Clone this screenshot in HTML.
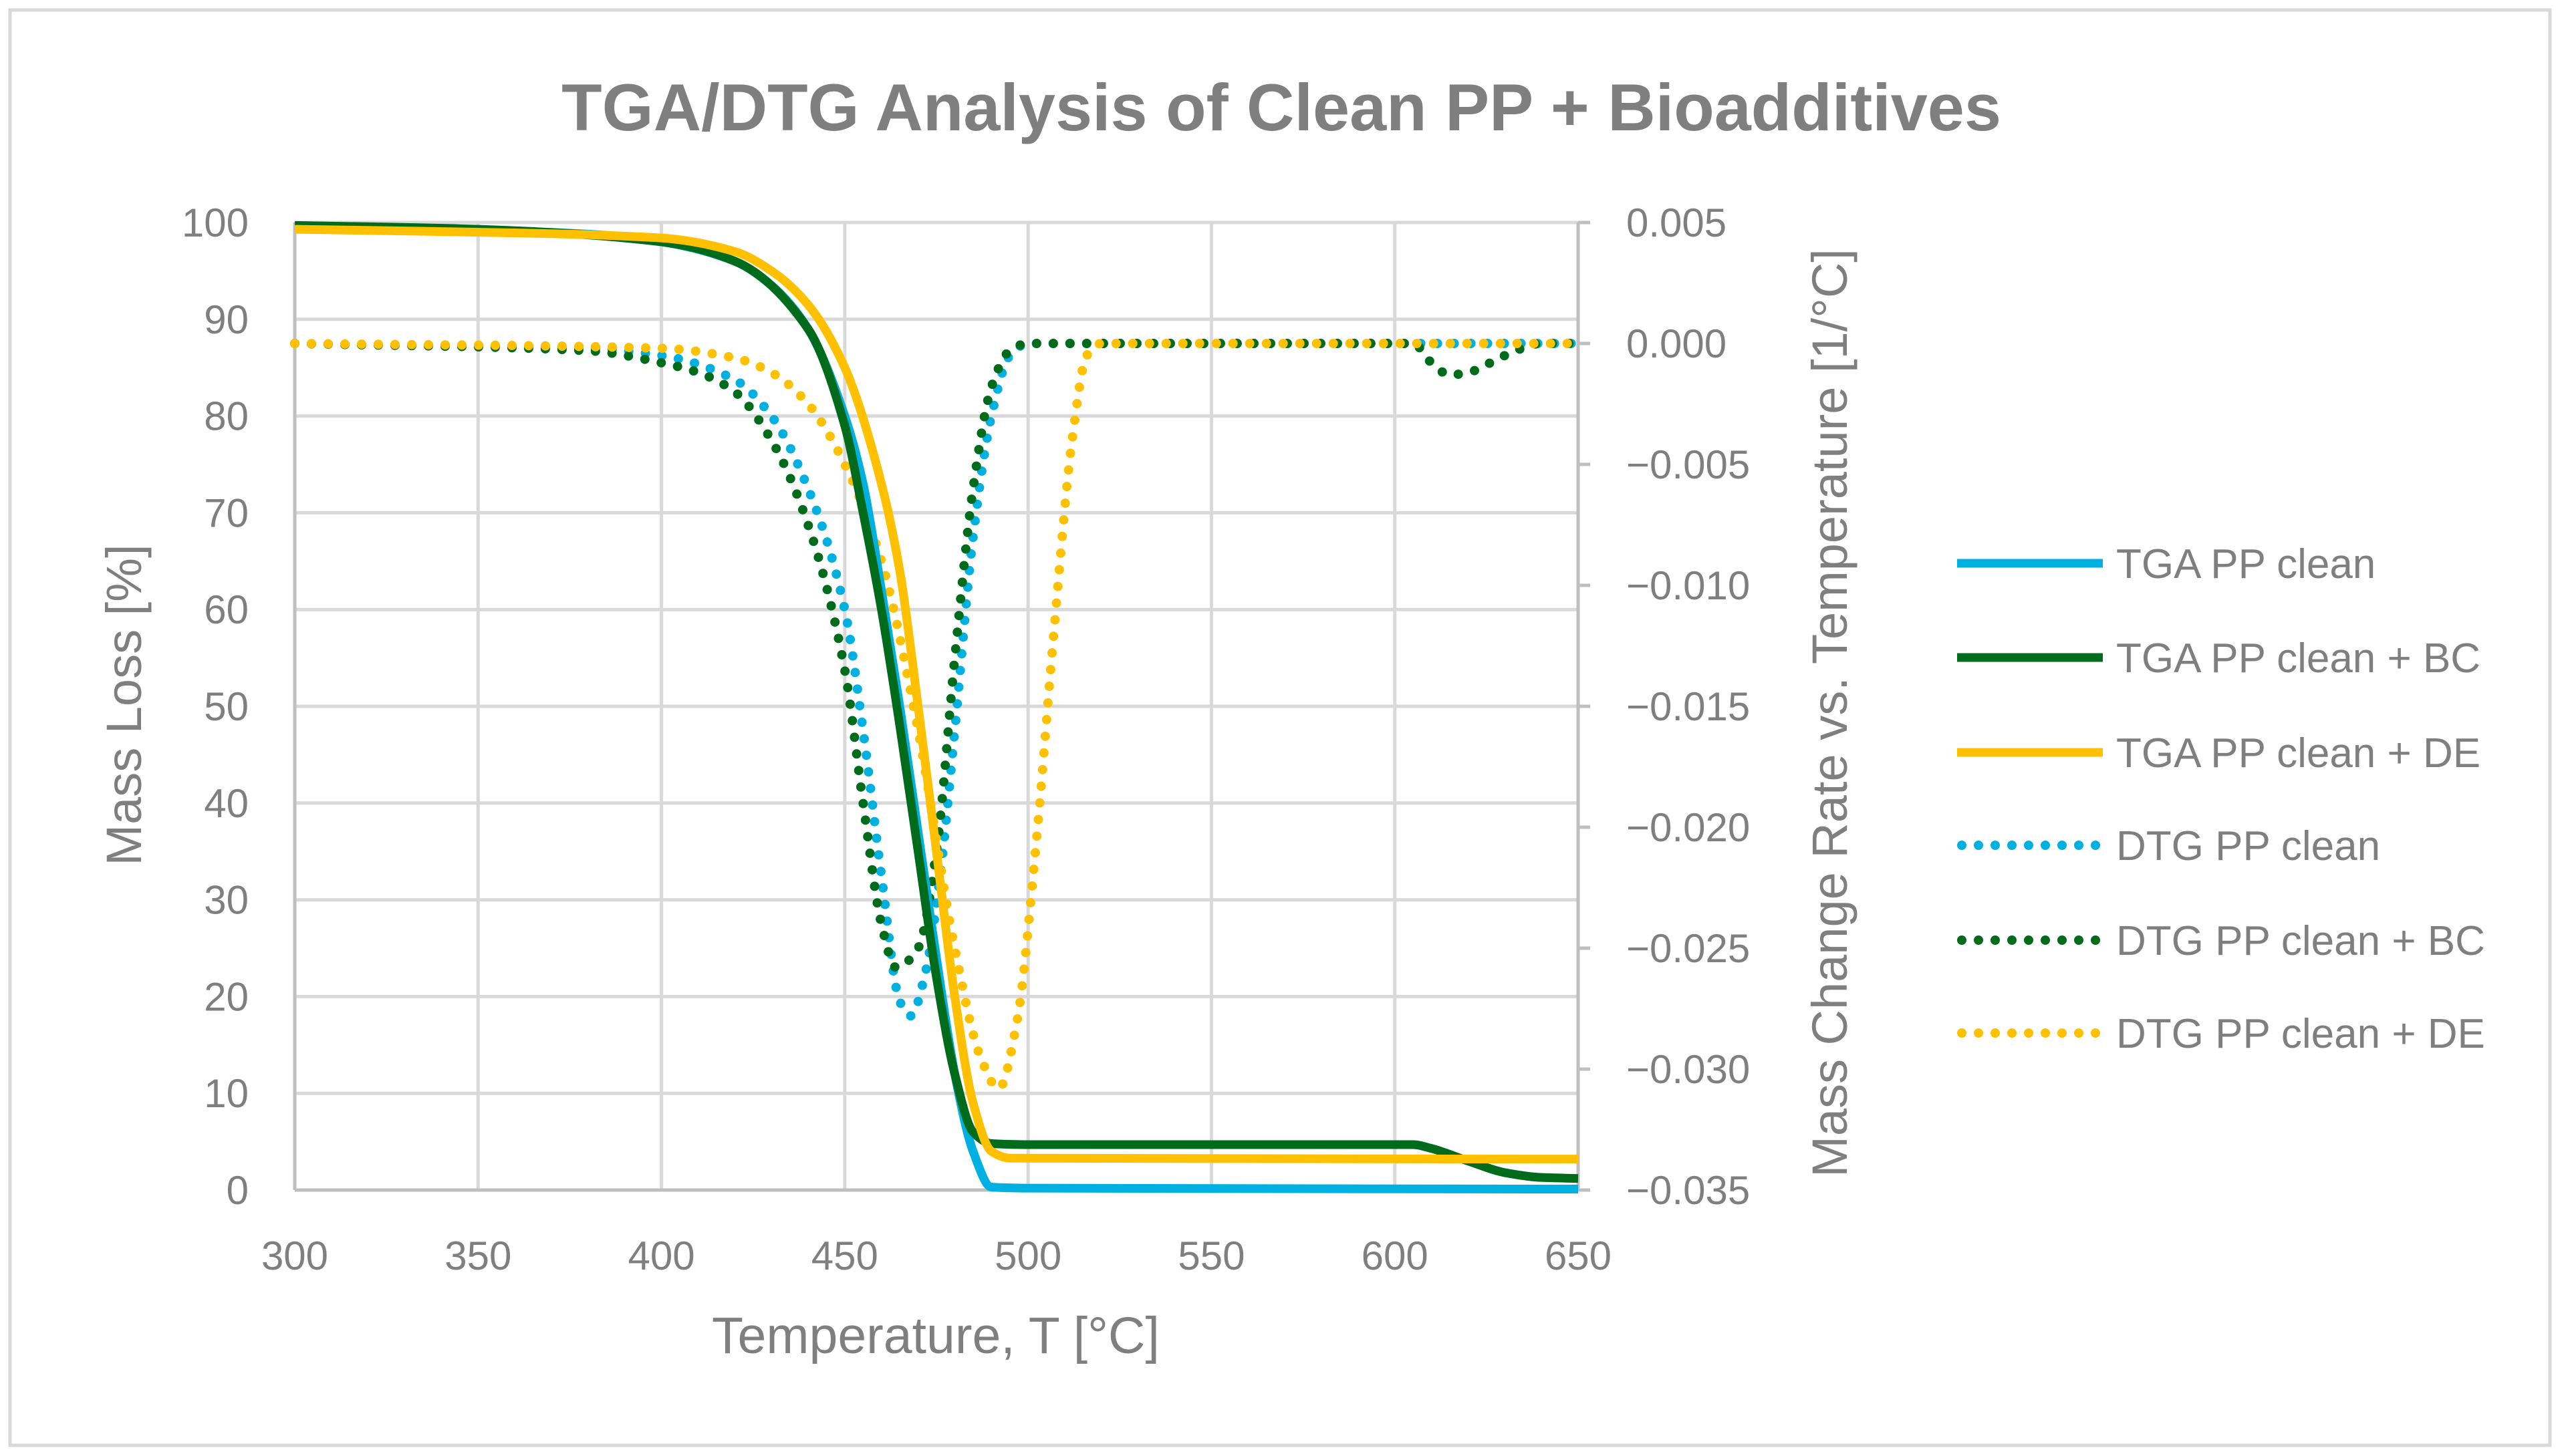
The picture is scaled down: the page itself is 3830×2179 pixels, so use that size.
<!DOCTYPE html>
<html><head><meta charset="utf-8"><style>
html,body{margin:0;padding:0;background:#fff}
svg{display:block;font-family:"Liberation Sans",sans-serif}
</style></head><body>
<svg id="chart" width="3830" height="2179" viewBox="0 0 3830 2179">
<rect x="15" y="15" width="3800" height="2148" fill="#fff" stroke="#d9d9d9" stroke-width="5"/>
<text x="1917" y="195" text-anchor="middle" font-size="99" font-weight="bold" fill="#7f7f7f">TGA/DTG Analysis of Clean PP + Bioadditives</text>
<g id="grid"></g>
<g id="axes"></g>
<g id="series"></g>
<text x="1400" y="2025" text-anchor="middle" font-size="77" fill="#7f7f7f">Temperature, T [°C]</text>
<text transform="translate(211,1055) rotate(-90)" text-anchor="middle" font-size="74" fill="#7f7f7f">Mass Loss [%]</text>
<text transform="translate(2763,1067) rotate(-90)" text-anchor="middle" font-size="74" fill="#7f7f7f">Mass Change Rate vs. Temperature [1/°C]</text>
<g id="legend"></g>
</svg>
<script>
const xTicks=[300,350,400,450,500,550,600,650];
const yTicks=[0,10,20,30,40,50,60,70,80,90,100];
const y2Ticks=[0.005,0.000,-0.005,-0.010,-0.015,-0.020,-0.025,-0.030,-0.035];
const y2Labels=["0.005","0.000","\u22120.005","\u22120.010","\u22120.015","\u22120.020","\u22120.025","\u22120.030","\u22120.035"];
const seriesNames=["TGA PP clean","TGA PP clean + BC","TGA PP clean + DE","DTG PP clean","DTG PP clean + BC","DTG PP clean + DE"];
const tgaCleanT=[300,350,380,400,420,430,440,450,455,460,465,470,475,480,485,490,500,650];
const tgaCleanV=[99.5,99.2,98.8,98,96,93.5,89,80,73,62,50,37,24,12,4,0.3,0.2,0.1];
const tgaBCT=[300,350,400,420,440,450,455,460,465,470,475,480,485,490,500,605,610,620,630,640,650];
const tgaBCV=[99.7,99.3,98,96,89,79,70,60,48,35,22,12,6,4.8,4.7,4.7,4.3,3,1.8,1.3,1.2];
const tgaDET=[300,350,400,420,430,440,450,460,465,470,475,480,485,490,495,650];
const tgaDEV=[99.3,99,98.4,97,95,91.5,85,73,64,50,35,20,9,4,3.3,3.2];
const dtgCleanT=[300,380,400,420,430,440,450,455,460,465,468,472,476,480,485,490,495,500,650];
const dtgCleanV=[0,-0.0002,-0.0005,-0.0015,-0.003,-0.006,-0.011,-0.016,-0.022,-0.0272,-0.0278,-0.026,-0.022,-0.016,-0.008,-0.003,-0.0005,0,0];
const dtgBCT=[300,380,400,410,420,430,440,450,455,460,464,470,475,480,485,490,495,500,605,610,615,620,630,640,650];
const dtgBCV=[0,-0.0003,-0.0008,-0.0012,-0.002,-0.004,-0.0075,-0.0135,-0.019,-0.024,-0.0258,-0.025,-0.021,-0.013,-0.006,-0.0018,-0.0003,0,0,-0.0008,-0.0013,-0.0012,-0.0005,0,0];
const dtgDET=[300,400,420,430,440,450,460,470,480,487,492,497,502,507,512,516,520,650];
const dtgDEV=[0,-0.0002,-0.0006,-0.0012,-0.0025,-0.005,-0.009,-0.016,-0.025,-0.0295,-0.0308,-0.028,-0.021,-0.012,-0.004,-0.0005,0,0];

const X0=441,X1=2361,Y0=1781,Y1=333;
const sx=t=>X0+(t-300)/350*(X1-X0);
const sy=v=>Y0-v/100*(Y0-Y1);
const sy2=v=>Y0-(v+0.035)/0.04*(Y0-Y1);
const NS="http://www.w3.org/2000/svg";
function mk(tag,attrs,parent){const e=document.createElementNS(NS,tag);for(const k in attrs)e.setAttribute(k,attrs[k]);parent.appendChild(e);return e;}
const grid=document.getElementById('grid'),axes=document.getElementById('axes'),ser=document.getElementById('series'),leg=document.getElementById('legend');
xTicks.forEach(t=>{
  if(t>300&&t<650){const l=mk('line',{x1:sx(t),x2:sx(t),y1:Y1,y2:Y0,stroke:'#d9d9d9','stroke-width':5},grid);
  
  }
  const tx=mk('text',{x:sx(t),y:1900,'text-anchor':'middle','font-size':60,fill:'#7f7f7f'},axes);tx.textContent=t;
  
  
});
yTicks.forEach(v=>{
  if(v>0){const l=mk('line',{x1:X0,x2:X1,y1:sy(v),y2:sy(v),stroke:'#d9d9d9','stroke-width':5},grid);
  
  }
  const tx=mk('text',{x:372,y:sy(v)+21,'text-anchor':'end','font-size':60,fill:'#7f7f7f'},axes);tx.textContent=v;
  
  
});
y2Ticks.forEach((v,i)=>{
  const l=mk('line',{x1:X1,x2:X1+18,y1:sy2(v),y2:sy2(v),stroke:'#bfbfbf','stroke-width':5},axes);
  
  
  const tx=mk('text',{x:2433,y:sy2(v)+21,'font-size':60,fill:'#7f7f7f'},axes);tx.textContent=y2Labels[i];
  
  
});
const la=mk('line',{x1:X0,x2:X0,y1:Y1,y2:Y0,stroke:'#bfbfbf','stroke-width':5},axes);


const ra=mk('line',{x1:X1,x2:X1,y1:Y1,y2:Y0,stroke:'#bfbfbf','stroke-width':5},axes);


const ba=mk('line',{x1:X0,x2:X1,y1:Y0,y2:Y0,stroke:'#bfbfbf','stroke-width':5},axes);


const ta=mk('line',{x1:X0,x2:X1,y1:Y1,y2:Y1,stroke:'#d9d9d9','stroke-width':5},grid);



function pathD(xs,ys){
  const n=xs.length,dx=[],m=[],t=new Array(n);
  for(let i=0;i<n-1;i++){dx.push(xs[i+1]-xs[i]);m.push((ys[i+1]-ys[i])/dx[i]);}
  t[0]=m[0];t[n-1]=m[n-2];
  for(let i=1;i<n-1;i++){
    if(m[i-1]*m[i]<=0)t[i]=0;
    else{const w1=2*dx[i]+dx[i-1],w2=dx[i]+2*dx[i-1];t[i]=(w1+w2)/(w1/m[i-1]+w2/m[i]);}
  }
  let d=`M${xs[0]},${ys[0]}`;
  for(let i=0;i<n-1;i++){
    const h=dx[i]/3;
    d+=` C${xs[i]+h},${ys[i]+t[i]*h} ${xs[i+1]-h},${ys[i+1]-t[i+1]*h} ${xs[i+1]},${ys[i+1]}`;
  }
  return d;
}
const colors=['#00b0e0','#006b1b','#ffc000','#00b0e0','#006b1b','#ffc000'];
const defs=[[dtgCleanT,dtgCleanV,1],[dtgBCT,dtgBCV,1],[dtgDET,dtgDEV,1],[tgaCleanT,tgaCleanV,0],[tgaBCT,tgaBCV,0],[tgaDET,tgaDEV,0]];
const idx=[3,4,5,0,1,2];
const names=['dtg-pp-clean-line','dtg-pp-bc-line','dtg-pp-de-line','tga-pp-clean-line','tga-pp-bc-line','tga-pp-de-line'];
defs.forEach((d,k)=>{
  const xs=d[0].map(sx),ys=d[1].map(d[2]?sy2:sy);
  const c=colors[idx[k]];
  const attrs={d:pathD(xs,ys),fill:'none',stroke:c,'stroke-width':d[2]?14:13,'stroke-linejoin':'round'};
  if(d[2]){attrs['stroke-dasharray']='0 25';attrs['stroke-linecap']='round';}
  const p=mk('path',attrs,ser);
  
  
});
const legY=[843,984,1126,1265,1407,1546];
seriesNames.forEach((n,i)=>{
  const g=mk('g',{},leg);
  
  
  const a={x1:2928,x2:3146,y1:legY[i],y2:legY[i],stroke:colors[i],'stroke-width':i<3?13:14};
  if(i>=3){a['stroke-dasharray']='0 25';a['stroke-linecap']='round';a.x1=2935;}
  const l=mk('line',a,g);
  
  
  const t=mk('text',{x:3166,y:legY[i]+22,'font-size':62,fill:'#7f7f7f'},g);t.textContent=n;
  
  
});
</script>
</body></html>
